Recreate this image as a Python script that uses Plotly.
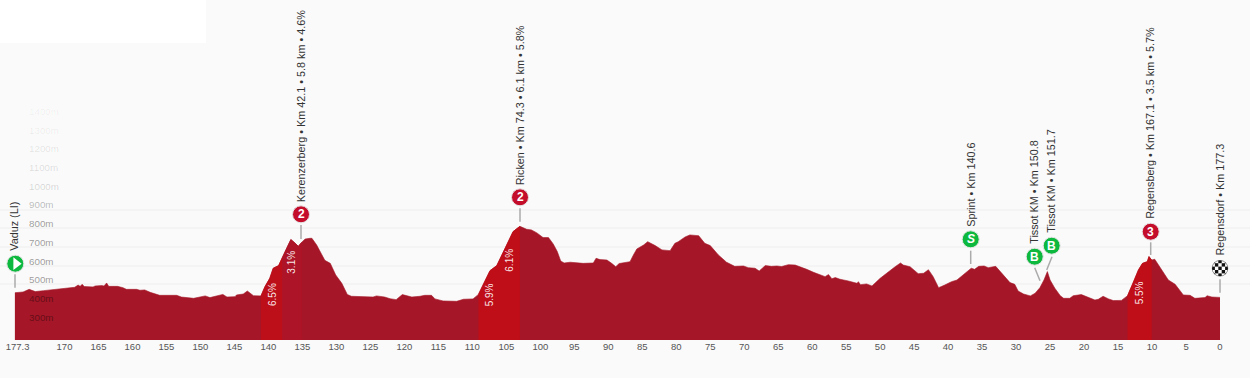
import base64
import plotly.graph_objects as go

# ---- data ----
KM = [177.3,176.1,175.2,174.3,173.1,171.6,170.2,168.5,168.0,167.7,167.4,167.1,165.8,165.5,164.5,164.2,163.8,163.5,162.2,161.4,160.9,159.4,158.9,158.2,157.4,156.0,153.5,152.8,151.0,150.1,149.3,
      148.6,147.6,146.7,146.1,144.9,144.7,143.7,143.1,142.2,141.1,140.5,139.8,139.3,138.5,138.0,137.8,137.1,136.7,136.3,135.9,135.6,135.1,134.6,133.9,133.6,132.9,132.2,131.7,130.9,130.1,129.2,128.4,127.8,126.8,124.6,124.1,122.9,122.1,121.2,120.3,119.7,118.9,
      117.7,117.0,116.0,115.5,114.3,112.3,111.3,109.9,109.1,108.4,107.4,106.4,105.7,104.7,104.0,103.0,102.0,101.3,100.5,99.6,98.8,98.1,97.5,97.0,96.5,95.6,93.7,92.2,91.8,91.2,90.2,89.5,88.9,88.4,
      86.8,86.3,85.8,84.8,84.2,83.1,82.1,80.9,80.2,79.7,78.7,78.0,76.7,75.8,75.0,73.8,72.6,71.4,70.1,69.4,68.4,67.8,66.9,66.0,65.2,64.5,63.5,62.5,61.5,60.8,59.8,58.1,57.6,57.1,56.6,
      55.9,54.7,53.4,53.2,52.9,52.0,51.2,50.0,48.8,47.8,47.0,46.6,45.6,44.4,43.6,42.9,42.2,41.4,40.5,40.0,39.5,38.7,37.8,36.6,36.1,35.5,34.7,34.1,33.0,31.9,30.9,30.2,29.7,28.9,27.9,27.2,26.5,25.9,25.4,
      25.0,24.3,23.5,23.0,22.1,21.6,20.4,19.4,18.4,17.9,17.2,16.4,15.7,14.5,13.6,12.8,12.0,11.4,10.7,10.45,10.05,9.6,8.6,7.6,6.6,5.4,4.4,3.7,2.2,1.9,1.2,0.0]
ELEV = [455,459,473,461,466,473,480,484,496,489,500,488,486,491,493,491,507,489,489,482,473,473,468,470,457,441,441,432,425,430,438,
        429,439,446,432,434,443,448,464,439,438,488,532,586,600,640,657,710,739,728,714,703,725,742,746,746,710,657,628,612,550,505,446,436,434,432,438,432,423,418,445,441,432,
        436,441,441,422,411,409,420,422,446,496,573,600,653,728,782,810,794,791,775,750,750,716,675,625,614,618,612,614,639,632,630,612,594,611,
        621,657,689,710,728,707,684,680,719,728,753,764,760,719,707,657,618,596,598,589,586,571,600,596,598,595,605,603,591,580,564,541,552,530,536,
        527,518,505,514,498,502,491,532,568,594,614,603,594,557,559,578,541,482,496,505,514,523,550,586,580,596,598,589,596,550,509,500,464,448,438,452,482,523,568,
        523,479,439,425,425,439,445,432,416,420,436,422,413,414,439,505,577,612,621,648,630,634,577,523,500,443,441,425,429,439,432,430]

TICK_VALUES = [176.9] + list(range(170, -1, -5))
TICK_LABELS = ["177.3"] + [str(v) for v in range(170, -1, -5)]
ELEV_LABELS = [300, 400, 500, 600, 700, 800, 900, 1000, 1100, 1200, 1300, 1400]
ELEV_ALPHA = [.42, .42, .4, .4, .4, .4, .27, .16, .13, .1, .07, .05]
GRID_LEVELS = [500, 600, 700, 800, 900]

SEGMENT_START = [141.1, 138.0, 109.1, 13.6]
SEGMENT_END = [138.0, 135.1, 103.0, 10.05]
SEGMENT_COLOR = ["#BD0F1A", "#AE1427", "#BF0E18", "#BF0E18"]

GRADE_TEXT = ["6.5%", "3.1%", "5.9%", "6.1%", "5.5%"]
WAY_TEXT = ["Vaduz (LI)", "Kerenzerberg • Km 42.1 • 5.8 km • 4.6%", "Ricken • Km 74.3 • 6.1 km • 5.8%",
            "Sprint • Km 140.6", "Tissot KM • Km 150.8", "Tissot KM • Km 151.7",
            "Regensberg • Km 167.1 • 3.5 km • 5.7%", "Regensdorf • Km 177.3"]
BADGE_TEXT = ["", "2", "2", "S", "B", "B", "3", ""]
BADGE_KIND = ["start", "climb", "climb", "bonus", "bonus", "bonus", "climb", "finish"]

# ---- layout helpers (pixel geometry of the frame) ----
W, H = 1250, 378
PX_PER_KM = 6.797
X0 = 1220
BASE_PX = 340
PX_PER_M = 0.187
def km_of(px): return (X0 - px) / PX_PER_KM
def el_of(py): return 500 + (284.3 - py) / PX_PER_M

RED, GREEN, AREA = "#C40D2B", "#0CB83D", "#A51728"

fig = go.Figure()
fig.add_trace(go.Scatter(x=KM, y=ELEV, mode="lines", fill="tozeroy", fillcolor=AREA,
                         line=dict(color=AREA, width=0.6), hoverinfo="skip"))
for s, e, c in zip(SEGMENT_START, SEGMENT_END, SEGMENT_COLOR):
    pts = [(k, v) for k, v in zip(KM, ELEV) if e <= k <= s]
    fig.add_trace(go.Scatter(x=[p[0] for p in pts], y=[p[1] for p in pts], mode="lines",
                             fill="tozeroy", fillcolor=c, line=dict(color=c, width=0.6), hoverinfo="skip"))

# connectors
CONN = [(15, 274.3, 15, 287.7), (301, 225, 301, 239), (520, 208.3, 520, 221.7), (970.7, 250.7, 970.7, 264),
        (1034.7, 267.7, 1040, 280.7), (1052, 256.7, 1046.7, 270), (1150.7, 242.3, 1150.7, 255), (1220, 279.3, 1220, 292.7)]
for x1, y1, x2, y2 in CONN:
    fig.add_shape(type="line", x0=km_of(x1), x1=km_of(x2), y0=el_of(y1), y1=el_of(y2),
                  line=dict(color="#ABABAB", width=1.5), layer="above")

# badges
CENTRES = [(15.3, 263.7), (301, 214.3), (520, 197.3), (970.7, 239.3), (1034.7, 256.7), (1051.7, 245.7), (1150.7, 231.7), (1220, 268.3)]
COL = {"start": GREEN, "bonus": GREEN, "climb": RED}
for (cx, cy), kind in zip(CENTRES, BADGE_KIND):
    if kind == "finish":
        continue
    fig.add_trace(go.Scatter(x=[km_of(cx)], y=[el_of(cy)], mode="markers", hoverinfo="skip",
                             marker=dict(size=17, color=COL[kind], line=dict(color="#E4E4E4", width=1))))
    if kind == "start":
        fig.add_trace(go.Scatter(x=[km_of(cx + 0.8)], y=[el_of(cy)], mode="markers", hoverinfo="skip",
                                 marker=dict(size=11, color="white", symbol="triangle-right")))

# finish flag
squares = "".join(f'<rect x="{i*3.4}" y="{j*3.4}" width="3.4" height="3.4" fill="#111"/>'
                  for i in range(5) for j in range(5) if (i + j) % 2 == 0)
svg = ('<svg xmlns="http://www.w3.org/2000/svg" width="68" height="68" viewBox="0 0 17 17">'
       '<defs><clipPath id="c"><circle cx="8.5" cy="8.5" r="8"/></clipPath></defs>'
       f'<circle cx="8.5" cy="8.5" r="8" fill="#fff"/><g clip-path="url(#c)">{squares}</g>'
       '<circle cx="8.5" cy="8.5" r="7.9" fill="none" stroke="#333" stroke-width="0.5"/></svg>')
fig.add_layout_image(source="data:image/svg+xml;base64," + base64.b64encode(svg.encode()).decode(),
                     xref="paper", yref="paper", x=(1220 - 8.5) / W, y=1 - (268.3 - 8.5) / (H - 38),
                     sizex=17 / W, sizey=17 / (H - 38), xanchor="left", yanchor="top",
                     sizing="stretch", layer="above")

ann = []
# elevation labels
for v, a in zip(ELEV_LABELS, ELEV_ALPHA):
    ann.append(dict(x=km_of(26.5), y=v, xref="x", yref="y", text=f"{v}m", showarrow=False, xanchor="left",
                    yanchor="middle", yshift=4.6, font=dict(size=9.8, color=f"rgba(0,0,0,{a})")))
# way-point labels
LABEL_POS = [(14, 250.7), (301, 201.7), (520, 184.7), (970.3, 226), (1034, 243.3), (1051, 232.3), (1150, 218.3), (1219, 255)]
for (lx, ly), t in zip(LABEL_POS, WAY_TEXT):
    ann.append(dict(x=km_of(lx), y=el_of(ly), xref="x", yref="y", text=t, showarrow=False, textangle=-90,
                    xanchor="center", yanchor="bottom", yshift=-2.5, font=dict(size=10.8, color="#333333")))
# badge texts
for (cx, cy), t, kind in zip(CENTRES, BADGE_TEXT, BADGE_KIND):
    if t:
        ann.append(dict(x=km_of(cx), y=el_of(cy), xref="x", yref="y", showarrow=False,
                        text=f"<b><i>{t}</i></b>" if t == "S" else f"<b>{t}</b>",
                        font=dict(size=12, color="white"), xanchor="center", yanchor="middle"))
# gradient labels
GRADE_POS = [(272, 295), (292, 262.7), (489.3, 295), (510, 260.7), (1139.3, 293)]
for (gx, gy), t in zip(GRADE_POS, GRADE_TEXT):
    ann.append(dict(x=km_of(gx), y=el_of(gy), xref="x", yref="y", text=t, showarrow=False, textangle=-90,
                    xanchor="center", yanchor="middle", font=dict(size=10, color="rgba(255,255,255,0.9)")))

fig.update_layout(
    width=W, height=H, showlegend=False,
    margin=dict(l=0, r=0, t=0, b=H - BASE_PX, pad=0),
    paper_bgcolor="#FAFAFA", plot_bgcolor="#FAFAFA",
    font=dict(family="Liberation Sans, Arial, sans-serif"),
    annotations=ann,
    xaxis=dict(range=[km_of(0), km_of(W)], tickmode="array", tickvals=TICK_VALUES, ticktext=TICK_LABELS,
               showgrid=False, zeroline=False, showline=False, ticks="", tickangle=0,
               ticklabelstandoff=-1, tickfont=dict(size=9.5, color="#555555")),
    yaxis=dict(range=[el_of(BASE_PX), el_of(0)], tickmode="array", tickvals=GRID_LEVELS, showticklabels=False,
               showgrid=True, gridcolor="#F4F4F4", gridwidth=2, zeroline=False, showline=False, ticks=""),
)
fig.add_shape(type="rect", xref="paper", yref="paper", x0=0, x1=206 / W, y0=1 - 43 / BASE_PX, y1=1,
              fillcolor="white", line=dict(width=0), layer="below")

fig.write_html("out.html", config=dict(displayModeBar=False),
               post_script="document.body.style.margin='0';document.body.style.overflow='hidden';")
